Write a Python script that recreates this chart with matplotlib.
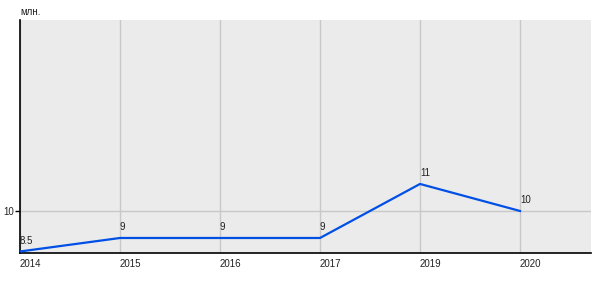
import matplotlib
matplotlib.use("Agg")
import matplotlib.pyplot as plt

plt.rcParams['font.family'] = ['Liberation Sans', 'DejaVu Sans']

years = ['2014', '2015', '2016', '2017', '2019', '2020']
values = [8.5, 9, 9, 9, 11, 10]
value_labels = ['8.5', '9', '9', '9', '11', '10']

fig = plt.figure(figsize=(6, 3), dpi=100)
ax = fig.add_axes([20/600, 47/300, 571/600, 233/300])
ax.set_facecolor('#ebebeb')

x = list(range(len(years)))
ax.plot(x, values, color='#0050e6', lw=1.6, zorder=3)
for xi, v, t in zip(x, values, value_labels):
    ax.annotate(t, (xi, v), xytext=(0, 4), textcoords='offset points',
                ha='left', va='bottom', fontsize=7, color='#222222', zorder=4)

ax.set_xlim(0, 5.71)
ax.set_ylim(8.444, 17.07)
ax.set_xticks(x)
ax.set_xticklabels(years, ha='left', fontsize=7, color='#222222')
ax.set_yticks([10])
ax.set_yticklabels(['10'], fontsize=7, color='#222222')
ax.tick_params(axis='x', length=0, pad=4)
ax.tick_params(axis='y', length=3.5, width=1, pad=0.5)
ax.grid(True, color='#c8c8c8', lw=1)
ax.set_axisbelow(True)
for s in ['top', 'right']:
    ax.spines[s].set_visible(False)
for s in ['left', 'bottom']:
    ax.spines[s].set_color('black')
    ax.spines[s].set_linewidth(1.2)

fig.text(20/600, 1 - 12/300, 'млн.', fontsize=7, color='#222222', va='center', ha='left')

fig.savefig('out.png', dpi=100)
